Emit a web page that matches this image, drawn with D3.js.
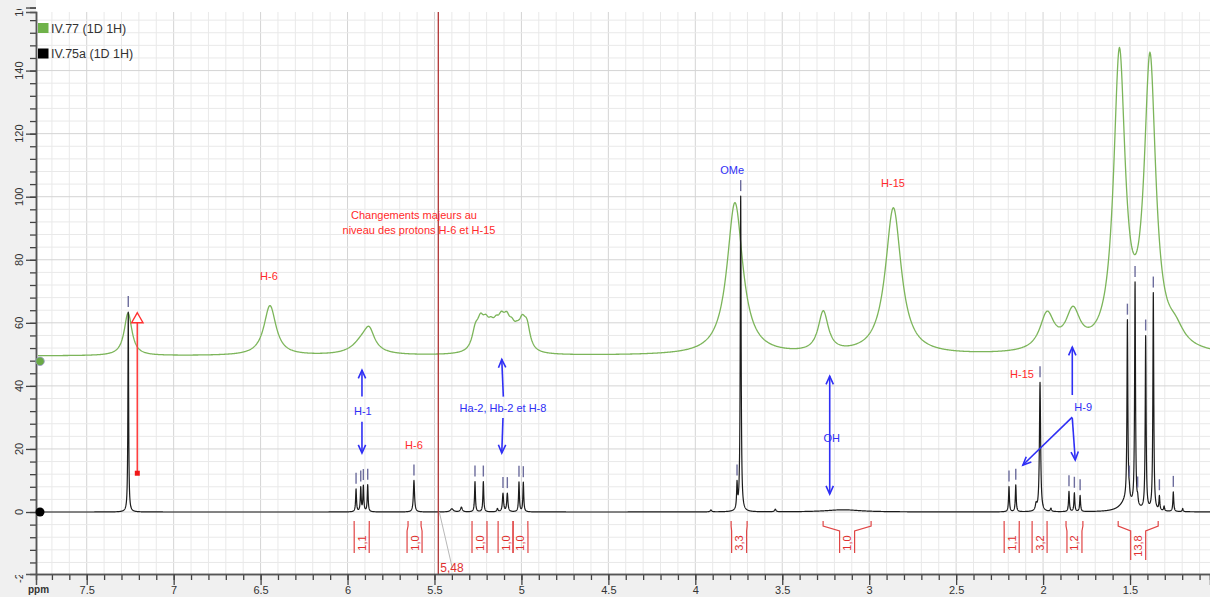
<!DOCTYPE html>
<html><head><meta charset="utf-8">
<script src="https://cdn.jsdelivr.net/npm/d3@7"></script>
<style>
body{margin:0;background:#fff;overflow:hidden;}
svg{display:block;font-family:"Liberation Sans",Arial,sans-serif;}
</style>
</head><body>
<svg id="chart" width="1210" height="597"></svg>
<script>
// ---------------- DATA ----------------
const seriesNames = ["IV.77 (1D 1H)", "IV.75a (1D 1H)"];
const seriesColors = ["#7cb55a", "#111111"];

const xTickValues = [7.5, 7, 6.5, 6, 5.5, 5, 4.5, 4, 3.5, 3, 2.5, 2, 1.5];
const xTickLabels = ["7.5", "7", "6.5", "6", "5.5", "5", "4.5", "4", "3.5", "3", "2.5", "2", "1.5"];
const yTickValues = [-20, 0, 20, 40, 60, 80, 100, 120, 140, 160];
const yTickLabels = ["-20", "0", "20", "40", "60", "80", "100", "120", "140", "160"];

// IV.77 (green) : peak table (ppm, height above baseline, half-width in ppm)
const greenBaseline = 49.5;
const greenPpm    = [7.262, 6.446, 5.91, 5.875,
                     5.265, 5.235, 5.205, 5.175, 5.145, 5.115, 5.085, 5.055, 5.025, 4.995, 4.968,
                     3.772, 3.264, 2.861, 1.977, 1.828, 1.561, 1.385, 1.24];
const greenHeight = [13.5, 15.8, 4.5, 5.5,
                     5.8, 7.4, 6.0, 5.0, 5.35, 6.75, 6.95, 5.0, 3.75, 7.1, 6.9,
                     48.3, 12.8, 46.5, 11.5, 11.6, 92.5, 90.7, 5];
const greenWidth  = [0.027, 0.042, 0.07, 0.035,
                     0.023, 0.023, 0.023, 0.023, 0.023, 0.023, 0.023, 0.023, 0.023, 0.023, 0.022,
                     0.055, 0.035, 0.055, 0.05, 0.05, 0.04, 0.04, 0.06];

// IV.75a (black) : peak table
const blackBaseline = 0;
const blackPpm    = [7.261, 5.951, 5.924, 5.909, 5.884, 5.618, 5.40, 5.345, 5.267, 5.219, 5.138, 5.106, 5.081, 5.014, 4.989, 3.91, 3.76, 3.739, 3.54, 3.15, 2.196, 2.157, 2.04, 2.0175, 1.955, 1.851, 1.820, 1.787, 1.52, 1.515, 1.504, 1.471, 1.456, 1.410, 1.366, 1.331, 1.304, 1.251, 1.197];
const blackHeight = [63.4, 7.2, 7.6, 8.1, 8.5, 10, 1, 1.5, 9.6, 9.6, 1, 5.8, 5.8, 9.4, 9.3, 0.6, 8, 100, 0.8, 0.7, 8, 8.5, 2, 41, 1, 6.4, 5.9, 5.1, 3.5, 57, 2, 71, 2, 55, 69, 4.5, 1.5, 6.2, 1];
const blackWidth  = [0.0025, 0.003, 0.003, 0.003, 0.003, 0.004, 0.01, 0.006, 0.003, 0.003, 0.004, 0.004, 0.004, 0.003, 0.003, 0.005, 0.003, 0.003, 0.005, 0.12, 0.003, 0.003, 0.005, 0.004, 0.004, 0.003, 0.003, 0.003, 0.04, 0.003, 0.003, 0.003, 0.003, 0.003, 0.003, 0.003, 0.003, 0.003, 0.003];

// peak-picking marks on IV.75a
const pickedPpm = [7.261, 5.951, 5.924, 5.909, 5.884, 5.618, 5.267, 5.219, 5.106, 5.081, 5.014, 4.989, 3.76, 3.739, 2.196, 2.157, 2.0175, 1.851, 1.820, 1.787, 1.515, 1.504, 1.471, 1.456, 1.410, 1.366, 1.331, 1.251];

// integrals
const integralFrom   = [5.962, 5.652, 5.284, 5.134, 5.048, 3.794, 3.265, 2.224, 2.063, 1.868, 1.568];
const integralTo     = [5.875, 5.577, 5.198, 5.048, 4.963, 3.702, 2.989, 2.137, 1.977, 1.771, 1.338];
const integralLabels = ["1,1", "1,0", "1,0", "1,0", "1,0", "3,3", "1,0", "1,1", "3,2", "1,2", "13,8"];

const cursorPpm = 5.478;
const cursorLabel = "5,48";

// ---------------- CHART ----------------
const W = 1210, H = 597;
const P = {left: 36, right: 1210, top: 12, bottom: 574};
const x = d3.scaleLinear().domain([7.7916, 1.04]).range([P.left, P.right]);
const y = d3.scaleLinear().domain([-19.66, 158.58]).range([P.bottom, P.top]);

const svg = d3.select("#chart");
const defs = svg.append("defs");
defs.append("clipPath").attr("id", "plotClip").append("rect")
  .attr("x", P.left).attr("y", P.top).attr("width", P.right - P.left).attr("height", P.bottom - P.top);
defs.append("clipPath").attr("id", "lowClip").append("rect")
  .attr("x", 0).attr("y", 575).attr("width", 36).attr("height", 22);
defs.append("clipPath").attr("id", "labClip").append("rect")
  .attr("x", 0).attr("y", 9).attr("width", 36).attr("height", 566);

svg.append("rect").attr("width", W).attr("height", H).attr("fill", "#fff");

// grid
const grid = svg.append("g").attr("clip-path", "url(#plotClip)");
const xMinor = d3.range(79, 9, -1).map(d => d / 10);
const yMinor = d3.range(-20, 161, 4);
grid.selectAll("line.vx").data(xMinor).join("line")
  .attr("x1", d => x(d)).attr("x2", d => x(d)).attr("y1", P.top).attr("y2", P.bottom)
  .attr("stroke", d => Math.abs(d * 2 - Math.round(d * 2)) < 1e-6 ? "#d4d4d4" : "#e9e9e9")
  .attr("stroke-width", 1);
grid.selectAll("line.hy").data(yMinor).join("line")
  .attr("y1", d => y(d)).attr("y2", d => y(d)).attr("x1", P.left).attr("x2", P.right)
  .attr("stroke", d => d % 20 === 0 ? "#d4d4d4" : "#e9e9e9")
  .attr("stroke-width", 1);

// spectra
function spectrum(p, pp, hh, ww, base) {
  let s = base;
  for (let i = 0; i < pp.length; i++) { const d = (p - pp[i]) / ww[i]; s += hh[i] / (1 + d * d); }
  return s;
}
const greenVal = p => spectrum(p, greenPpm, greenHeight, greenWidth, greenBaseline);
const blackVal = p => spectrum(p, blackPpm, blackHeight, blackWidth, blackBaseline);

function samples(step, extra) {
  const arr = [];
  for (let px = P.left + 2; px <= P.right + 1; px += step) arr.push(x.invert(px));
  extra.forEach(p => arr.push(p));
  return arr.sort((a, b) => b - a);
}
const line = d3.line().x(d => x(d[0])).y(d => y(d[1]));
const specG = svg.append("g").attr("clip-path", "url(#plotClip)");

const gPts = samples(0.5, greenPpm).map(p => [p, greenVal(p)]);
specG.append("path").attr("d", line(gPts)).attr("fill", "none")
  .attr("stroke", seriesColors[0]).attr("stroke-width", 1.3);

const bPts = samples(0.15, blackPpm).map(p => [p, blackVal(p)]);
specG.append("path").attr("d", line(bPts)).attr("fill", "none")
  .attr("stroke", "#1c1c1c").attr("stroke-width", 1.2).attr("stroke-linejoin", "round");

// cursor line
const cx = x(cursorPpm);
specG.append("line").attr("x1", cx + 1).attr("y1", y(0)).attr("x2", cx + 14).attr("y2", 568)
  .attr("stroke", "#b8b8b8").attr("stroke-width", 1);
specG.append("line").attr("x1", cx).attr("x2", cx).attr("y1", P.top).attr("y2", P.bottom)
  .attr("stroke", "#b03434").attr("stroke-width", 1.3);
svg.append("text").attr("x", cx + 2).attr("y", 572).attr("fill", "#e03030")
  .attr("font-size", 12).text(cursorLabel);

// peak-picking ticks
specG.selectAll("line.pk").data(pickedPpm).join("line")
  .attr("x1", d => x(d)).attr("x2", d => x(d))
  .attr("y1", d => y(blackVal(d)) - 16).attr("y2", d => y(blackVal(d)) - 5)
  .attr("stroke", "#6c6c9c").attr("stroke-width", 1.4);

// integrals
const integ = svg.append("g");
integralLabels.forEach((lab, i) => {
  const xa = x(integralFrom[i]), xb = x(integralTo[i]), xc = (xa + xb) / 2;
  const bottom = lab.length > 3 ? 560 : 553;
  const path = `M${xa},521 L${xa},526 L${xc - 7.5},531 L${xc - 7.5},${bottom} M${xb},521 L${xb},526 L${xc + 7.5},531 L${xc + 7.5},${bottom}`;
  integ.append("path").attr("d", path).attr("fill", "none").attr("stroke", "#e04545").attr("stroke-width", 1.2);
  const yc = lab.length > 3 ? 546 : 543;
  integ.append("text").attr("transform", `translate(${xc},${yc}) rotate(-90)`)
    .attr("text-anchor", "middle").attr("dominant-baseline", "central")
    .attr("font-size", 11).attr("fill", "#e03030").text(lab);
});

// annotations
const blue = "#2f2ff5", red = "#ff2a2a";
const ann = svg.append("g");
function txt(ppm, v, s, color) {
  ann.append("text").attr("x", x(ppm)).attr("y", y(v)).attr("text-anchor", "middle")
    .attr("font-size", 11).attr("fill", color).text(s);
}
function arrow(p1, v1, p2, v2, color, both) {
  const x1 = x(p1), y1 = y(v1), x2 = x(p2), y2 = y(v2);
  ann.append("line").attr("x1", x1).attr("y1", y1).attr("x2", x2).attr("y2", y2)
    .attr("stroke", color).attr("stroke-width", 1.6);
  const head = (ax, ay, bx, by) => {
    const a = Math.atan2(by - ay, bx - ax), L = 9, t = 0.42;
    ann.append("path")
      .attr("d", `M${bx - L * Math.cos(a - t)},${by - L * Math.sin(a - t)} L${bx},${by} L${bx - L * Math.cos(a + t)},${by - L * Math.sin(a + t)}`)
      .attr("fill", "none").attr("stroke", color).attr("stroke-width", 1.6);
  };
  head(x1, y1, x2, y2);
  if (both) head(x2, y2, x1, y1);
}
txt(5.618, 92.9, "Changements majeurs au", red);
txt(5.589, 88.2, "niveau des protons H-6 et H-15", red);
txt(6.452, 73.6, "H-6", red);
txt(5.618, 20.0, "H-6", red);
txt(2.863, 103.1, "H-15", red);
txt(2.121, 42.5, "H-15", red);
txt(3.788, 107.2, "OMe", blue);
txt(5.912, 30.8, "H-1", blue);
txt(5.106, 31.7, "Ha-2, Hb-2 et H-8", blue);
txt(3.216, 22.2, "OH", blue);
txt(1.769, 32.0, "H-9", blue);

arrow(5.917, 36.6, 5.917, 45.0, blue);
arrow(5.917, 28.6, 5.917, 18.7, blue);
arrow(5.104, 36.6, 5.113, 48.4, blue);
arrow(5.106, 29.8, 5.113, 18.7, blue);
arrow(3.227, 43.1, 3.227, 5.7, blue, true);
arrow(1.832, 37.1, 1.832, 52.3, blue);
arrow(1.832, 30.1, 2.116, 14.9, blue);
arrow(1.832, 29.8, 1.815, 16.5, blue);

// red arrow at 7.2 ppm
const rx = x(7.209);
ann.append("line").attr("x1", rx).attr("x2", rx).attr("y1", y(12.3)).attr("y2", y(63.2) + 10)
  .attr("stroke", "#ff4040").attr("stroke-width", 1.6);
ann.append("path").attr("d", `M${rx},${y(63.2)} L${rx + 5.7},${y(63.2) + 10} L${rx - 5.7},${y(63.2) + 10} Z`)
  .attr("fill", "#fff").attr("stroke", "#ff3030").attr("stroke-width", 1.4);
ann.append("rect").attr("x", rx - 2.5).attr("y", y(12.3) - 2.5).attr("width", 5).attr("height", 5).attr("fill", "#f01818");

// axis backgrounds
svg.append("rect").attr("x", 0).attr("y", 0).attr("width", P.left).attr("height", H).attr("fill", "#f0f0f0");
svg.append("rect").attr("x", 0).attr("y", P.bottom).attr("width", W).attr("height", H - P.bottom).attr("fill", "#f0f0f0");

// x axis
const xAxisG = svg.append("g").attr("transform", `translate(0,${P.bottom})`);
xAxisG.call(d3.axisBottom(x).tickValues(xMinor.filter(d => d <= 7.79 && d >= 1.04)).tickSize(6).tickFormat(""));
const xMaj = svg.append("g").attr("transform", `translate(0,${P.bottom})`)
  .call(d3.axisBottom(x).tickValues(xTickValues).tickFormat((d, i) => xTickLabels[i]).tickSize(11).tickPadding(1));
[xAxisG, xMaj].forEach(g => { g.select(".domain").attr("stroke", "#555").attr("stroke-width", 1.5); g.selectAll(".tick line").attr("stroke", "#444").attr("stroke-width", 1.3); });
xMaj.selectAll(".tick text").attr("font-size", 11).attr("fill", "#333").attr("font-family", "Liberation Sans, Arial, sans-serif");

// y axis
const yAxisG = svg.append("g").attr("transform", `translate(${P.left},0)`);
yAxisG.call(d3.axisLeft(y).tickValues(yMinor.filter(d => d >= -19.6)).tickSize(6).tickFormat(""));
const yMaj = svg.append("g").attr("transform", `translate(${P.left},0)`)
  .call(d3.axisLeft(y).tickValues(yTickValues.filter(d => d > -19.6)).tickSize(10).tickFormat(""));
[yAxisG, yMaj].forEach(g => { g.select(".domain").attr("stroke", "#555").attr("stroke-width", 1.5); g.selectAll(".tick line").attr("stroke", "#444").attr("stroke-width", 1.3); });
const ylMain = svg.append("g").attr("clip-path", "url(#labClip)");
const ylLow = svg.append("g").attr("clip-path", "url(#lowClip)");
yTickValues.forEach((v, i) => {
  (v < 0 ? ylLow : ylMain).append("text").attr("transform", `translate(19,${y(v)}) rotate(-90)`)
    .attr("text-anchor", "middle").attr("dominant-baseline", "central")
    .attr("font-size", 11).attr("fill", "#333").text(yTickLabels[i]);
});
svg.append("text").attr("x", 28).attr("y", 593).attr("font-size", 10).attr("font-weight", "bold")
  .attr("fill", "#333").text("ppm");

// cursor markers at the left
svg.append("circle").attr("cx", 40).attr("cy", y(47.8)).attr("r", 4.3).attr("fill", "#6aaa45").attr("stroke", "#9a9acc").attr("stroke-width", 0.8);
svg.append("circle").attr("cx", 40).attr("cy", y(0)).attr("r", 4.5).attr("fill", "#000");

// legend
seriesNames.forEach((n, i) => {
  const ly = 23 + i * 25.5;
  svg.append("rect").attr("x", 38).attr("y", ly).attr("width", 10.5).attr("height", 10).attr("fill", i === 0 ? "#6fb24a" : "#000");
  svg.append("text").attr("x", 51).attr("y", ly + 9.5).attr("font-size", 12.5).attr("fill", "#333").text(n);
});
</script>
</body></html>
